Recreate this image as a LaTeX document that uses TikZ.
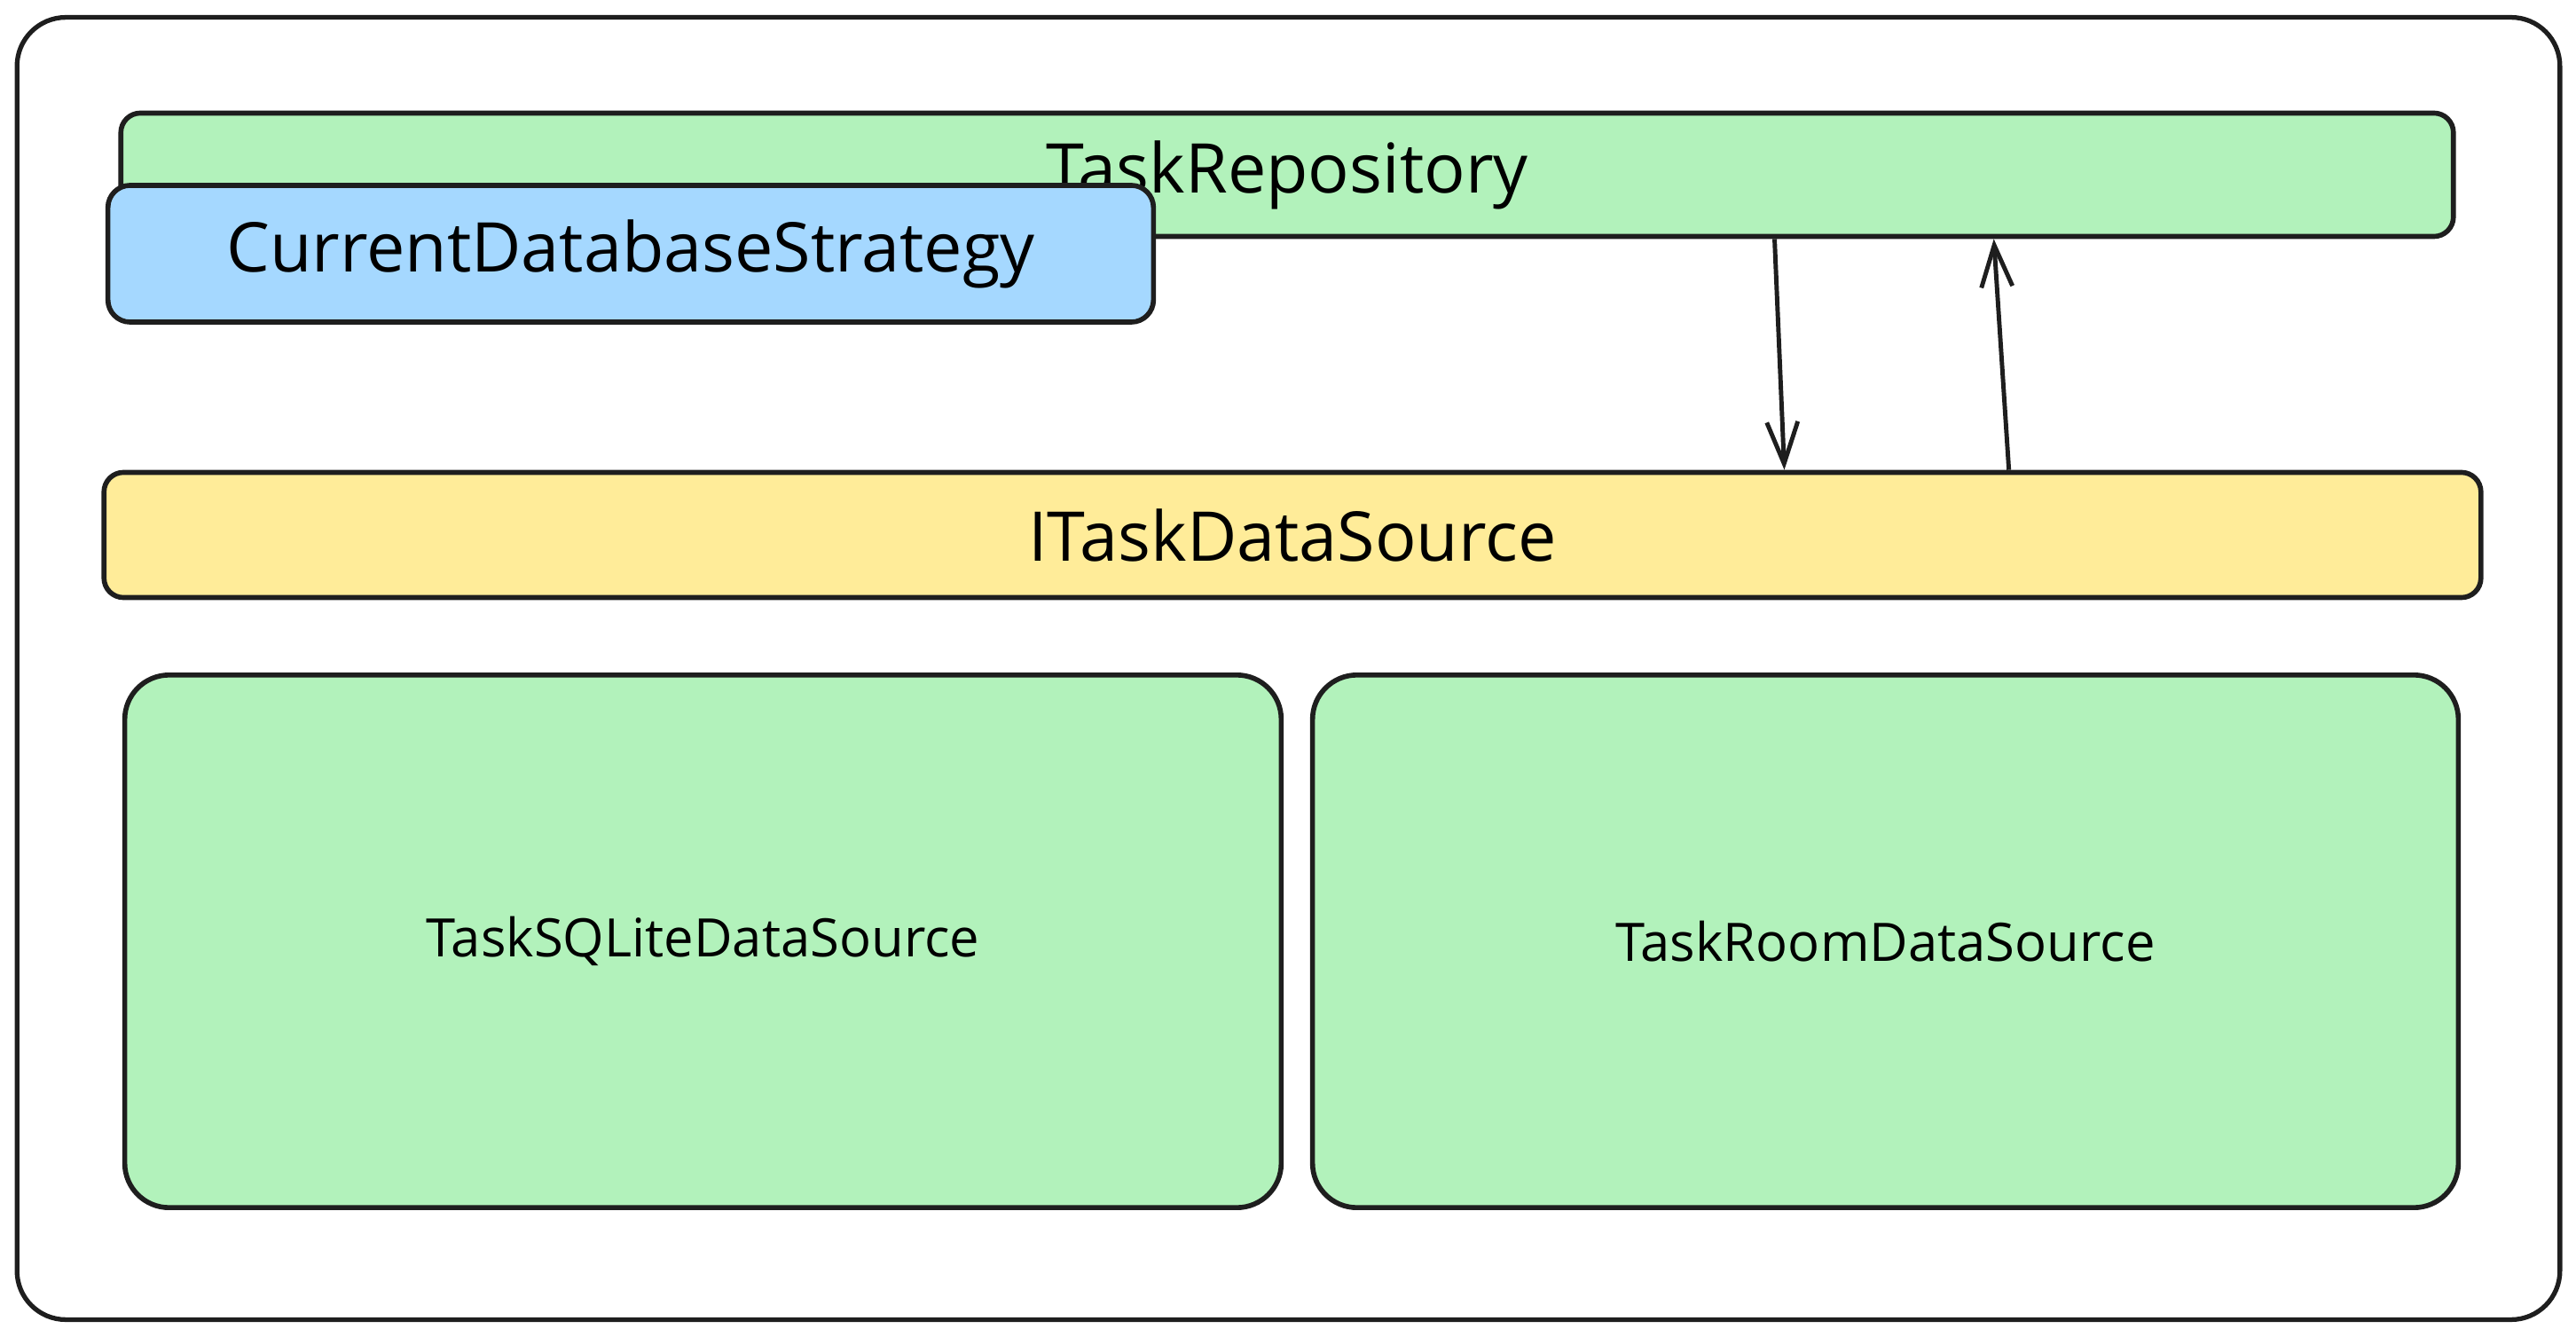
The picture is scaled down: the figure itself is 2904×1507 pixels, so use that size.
\documentclass[tikz,border=0pt]{standalone}
\usepackage{fontspec}
\setmainfont{Open Sans}
\usepackage{tikz}
\usetikzlibrary{arrows.meta,positioning}
\definecolor{ink}{HTML}{1E1E1E}
\definecolor{repogreen}{HTML}{B2F2BB}
\definecolor{stratblue}{HTML}{A5D8FF}
\definecolor{ifyellow}{HTML}{FFEC99}
\tikzstyle{layer}=[draw=ink,line width=1.6pt,rounded corners=0.22cm,inner sep=0pt,font=\fontsize{22}{26}\selectfont]
\tikzstyle{impl}=[layer,fill=repogreen,rounded corners=0.5cm,font=\fontsize{17}{20}\selectfont]
\tikzstyle{flow}=[->,>={Straight Barb[length=4.7mm,width=3.5mm]},draw=ink,line width=1.4pt]
\tikzset{every picture/.style={line width=1.2pt}}

\begin{document}
\begin{tikzpicture}[x=0.01cm,y=-0.01cm]
\useasboundingbox (0,0) rectangle (2904,1507);
% outer frame
\node[draw=ink,line width=1.5pt,rounded corners=0.55cm,minimum width=28.65cm,minimum height=14.67cm] (frame) at (1452.5,753.5) {};
\node[layer,fill=repogreen,minimum width=26.28cm,minimum height=1.39cm] (repo) at (1451,197) {TaskRepository};
\node[layer,fill=stratblue,rounded corners=0.25cm,minimum width=11.78cm,minimum height=1.54cm] (strategy) at (711,286) {CurrentDatabaseStrategy};
\node[layer,fill=ifyellow,minimum width=26.78cm,minimum height=1.41cm] (iface) at (1457,603) {ITaskDataSource};
% implementations
\node[impl,minimum width=13.03cm,minimum height=6cm] (sqlite) at (792.5,1061) {TaskSQLiteDataSource};
\node[impl,minimum width=12.91cm,minimum height=6cm] (room) at (2125.5,1061) {TaskRoomDataSource};
\draw[flow] ([xshift=18.66cm]repo.south west) -- ([xshift=18.96cm]iface.north west);
\draw[flow] ([xshift=21.49cm]iface.north west) -- ([xshift=21.13cm]repo.south west);
\end{tikzpicture}
\end{document}
